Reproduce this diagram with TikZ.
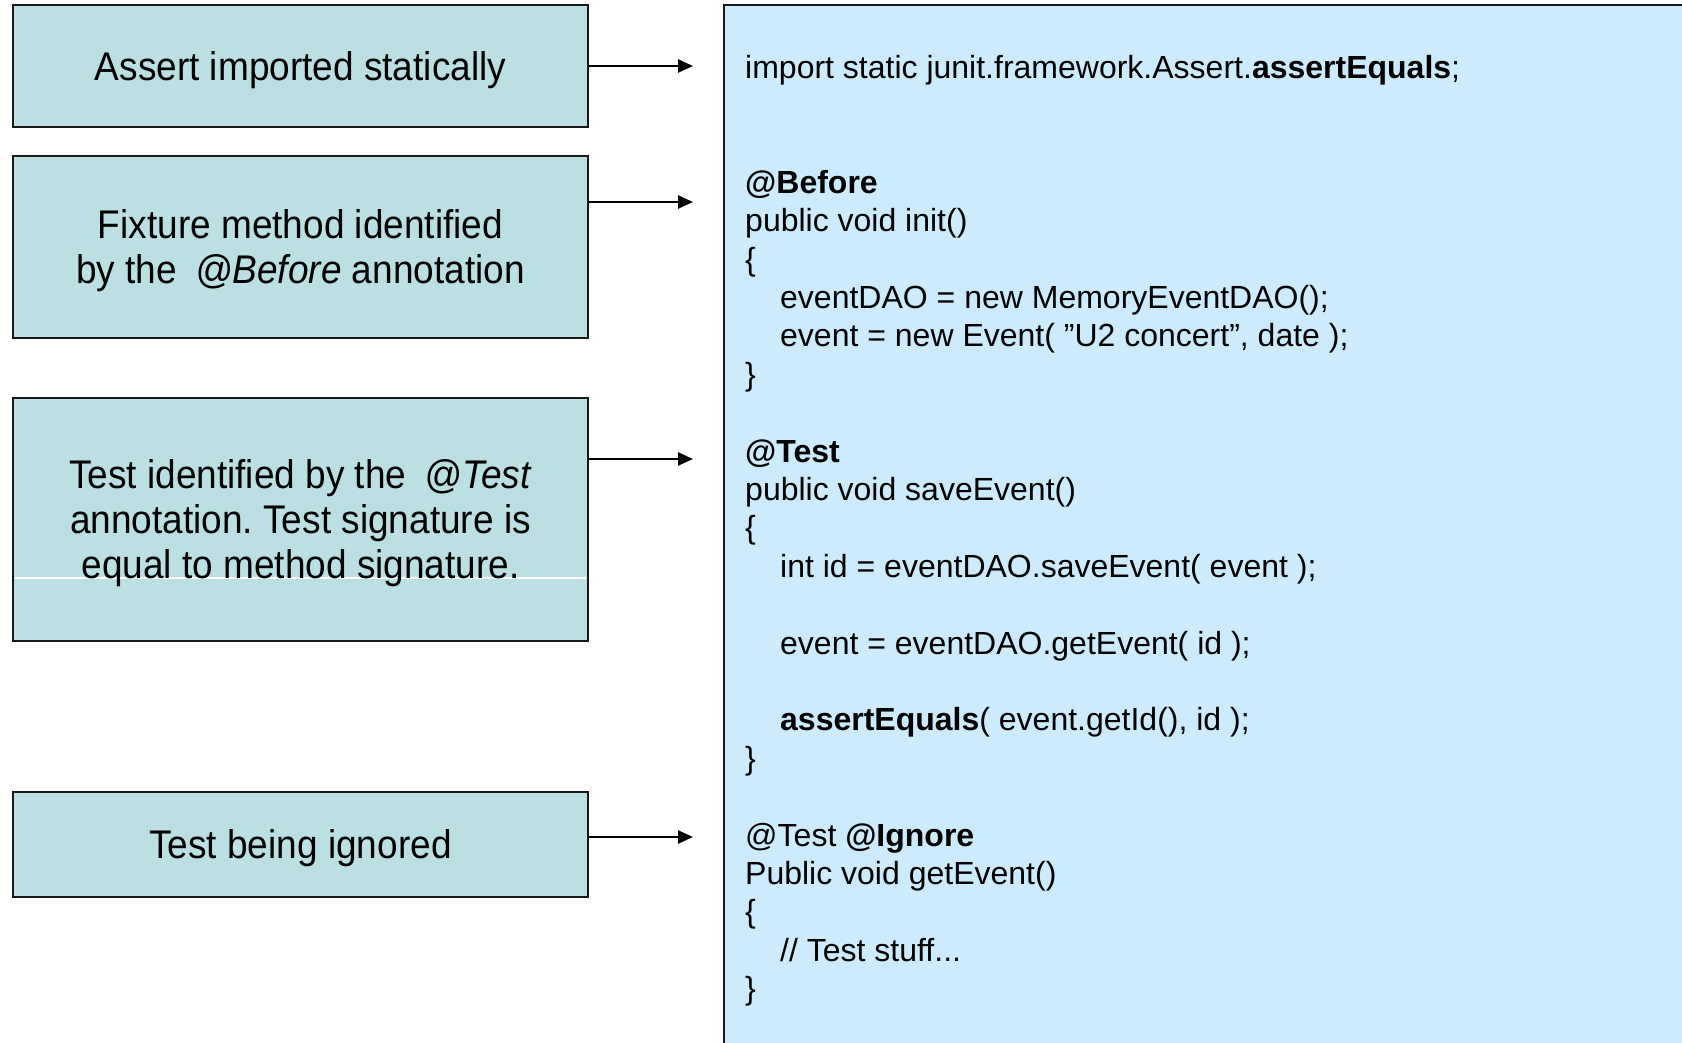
\documentclass[tikz,border=0pt]{standalone}
\usepackage{fontspec}
\setmainfont{Liberation Sans}
\newfontfamily\boxfont[FakeStretch=0.925]{Liberation Sans}
\usetikzlibrary{arrows.meta}
\definecolor{tealbox}{HTML}{BBE0E3}
\definecolor{codeblue}{HTML}{CCEBFD}
\tikzset{
  notebox/.style={draw=black!90, fill=tealbox, line width=2.8pt, minimum width=575pt,
    inner sep=0pt},
  boxtext/.style={inner sep=0pt, align=center, yshift=-4pt,
    font=\boxfont\fontsize{40}{45}\selectfont},
  codeframe/.style={draw=black!90, fill=codeblue, line width=2.8pt},
  codeline/.style={anchor=base west, inner sep=0pt, font=\fontsize{32}{38.4}\selectfont},
  pointer/.style={draw=black, line width=2.5pt, -{Triangle[length=15pt,width=13pt]}},
}
\newcommand{\ind}{\hspace*{35pt}}
\begin{document}
\frenchspacing
\begin{tikzpicture}[x=1pt,y=-1pt]
\useasboundingbox (0,0) rectangle (1682,1043);
\fill[white] (0,0) rectangle (1682,1043);
\clip (0,0) rectangle (1682,1043);
% code box
\draw[codeframe] (724,5) rectangle (1720,1080);
% left boxes
\node[notebox, minimum height=122pt] (b1) at (300.5,66) {};
\node[notebox, minimum height=182pt] (b2) at (300.5,247) {};
\node[notebox, minimum height=243pt] (b3) at (300.5,519.5) {};
\node[notebox, minimum height=105pt] (b4) at (300.5,844.5) {};
\coordinate (w1) at (15,578);
\coordinate (w2) at (586,578);
\draw[white, line width=1.2pt] (w1) -- (w2);
\node[boxtext] (l1) at (b1) {Assert imported statically};
\node[boxtext] (l2) at (b2) {Fixture method identified\\by the\hspace{0.45em}\textit{@Before} annotation};
\node[boxtext] (l3) at (b3) {Test identified by the\hspace{0.45em}\textit{@Test}\\annotation. Test signature is\\equal to method signature.};
\node[boxtext] (l4) at (b4) {Test being ignored};
% arrow targets
\coordinate (t1) at (693,66);
\coordinate (t2) at (693,202);
\coordinate (t3) at (693,459);
\coordinate (t4) at (693,837);
\draw[pointer] (b1.east |- t1) -- (t1);
\draw[pointer] (b2.east |- t2) -- (t2);
\draw[pointer] (b3.east |- t3) -- (t3);
\draw[pointer] (b4.east |- t4) -- (t4);
% code lines
\node[codeline] (c0) at (745,79) {import static junit.framework.Assert.\textbf{assertEquals};};
\node[codeline] (c3) at (745,193.2) {\textbf{@Before}};
\node[codeline] (c4) at (745,231.6) {public void init()};
\node[codeline] (c5) at (745,270.0) {\{};
\node[codeline] (c6) at (745,308.4) {\ind eventDAO = new MemoryEventDAO();};
\node[codeline] (c7) at (745,346.8) {\ind event = new Event( ”U2 concert”, date );};
\node[codeline] (c8) at (745,385.2) {\}};
\node[codeline] (c10) at (745,462.0) {\textbf{@Test}};
\node[codeline] (c11) at (745,500.4) {public void saveEvent()};
\node[codeline] (c12) at (745,538.8) {\{};
\node[codeline] (c13) at (745,577.2) {\ind int id = eventDAO.saveEvent( event );};
\node[codeline] (c15) at (745,654.0) {\ind event = eventDAO.getEvent( id );};
\node[codeline] (c17) at (745,730.8) {\ind \textbf{assertEquals}( event.getId(), id );};
\node[codeline] (c18) at (745,769.2) {\}};
\node[codeline] (c20) at (745,846.0) {@Test \textbf{@Ignore}};
\node[codeline] (c21) at (745,884.4) {Public void getEvent()};
\node[codeline] (c22) at (745,922.8) {\{};
\node[codeline] (c23) at (745,961.2) {\ind // Test stuff...};
\node[codeline] (c24) at (745,999.6) {\}};
\end{tikzpicture}
\end{document}
